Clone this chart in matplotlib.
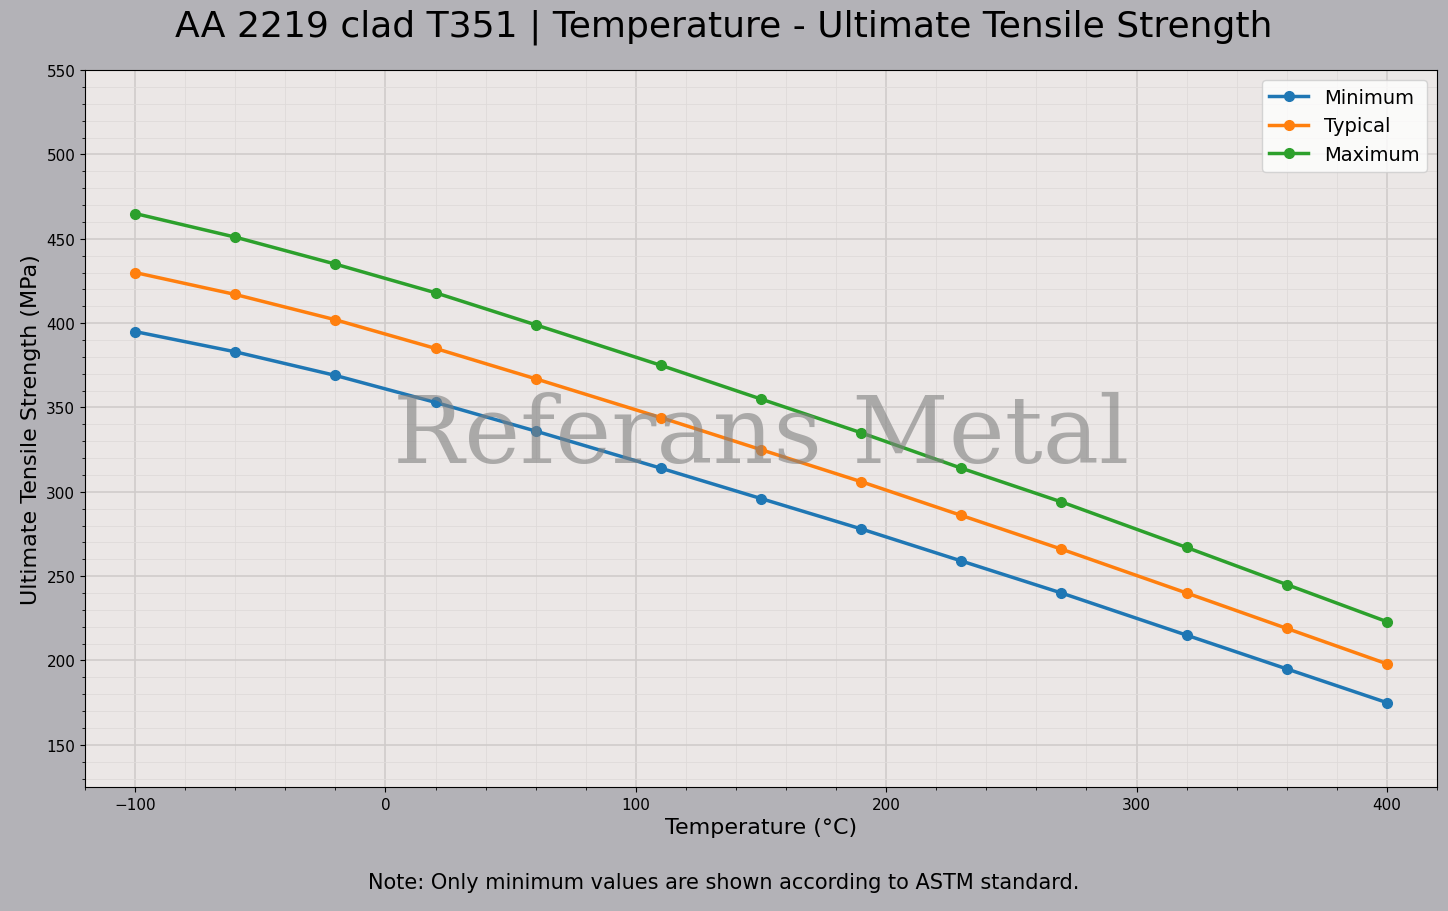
import matplotlib
matplotlib.use('Agg')
import matplotlib.pyplot as plt
from matplotlib.ticker import AutoMinorLocator

temps = [-100, -60, -20, 20, 60, 110, 150, 190, 230, 270, 320, 360, 400]
uts_min = [395, 383, 369, 353, 336, 314, 296, 278, 259, 240, 215, 195, 175]
uts_typ = [430, 417, 402, 385, 367, 344, 325, 306, 286, 266, 240, 219, 198]
uts_max = [465, 451, 435, 418, 399, 375, 355, 335, 314, 294, 267, 245, 223]

fig = plt.figure(figsize=(14.48, 9.12), dpi=100, facecolor='#b3b2b7')
ax = fig.add_axes([0.0587, 0.136, 0.9337, 0.786])
ax.set_facecolor('#ebe7e6')

ax.plot(temps, uts_min, '-o', color='#1f77b4', lw=2.5, ms=7, label='Minimum')
ax.plot(temps, uts_typ, '-o', color='#ff7f0e', lw=2.5, ms=7, label='Typical')
ax.plot(temps, uts_max, '-o', color='#2ca02c', lw=2.5, ms=7, label='Maximum')

ax.set_xlim(-120, 420)
ax.set_ylim(125, 550)
ax.xaxis.set_minor_locator(AutoMinorLocator(5))
ax.yaxis.set_minor_locator(AutoMinorLocator(5))
ax.grid(which='major', color='#d0cccb', lw=1.2)
ax.grid(which='minor', color='#dedad9', lw=0.6)
ax.set_axisbelow(True)
ax.tick_params(labelsize=11)

ax.set_xlabel('Temperature (°C)', fontsize=16)
ax.set_ylabel('Ultimate Tensile Strength (MPa)', fontsize=16)
fig.suptitle('AA 2219 clad T351 | Temperature - Ultimate Tensile Strength', fontsize=26, y=0.99)
ax.legend(loc='upper right', fontsize=14)

ax.text(0.5, 0.49, 'Referans Metal', transform=ax.transAxes, ha='center', va='center',
        fontsize=68, family='DejaVu Serif', color='#808080', alpha=0.6)
fig.text(0.5, 0.025, 'Note: Only minimum values are shown according to ASTM standard.',
         ha='center', fontsize=15)

plt.savefig('out.png', dpi=100, facecolor=fig.get_facecolor())
